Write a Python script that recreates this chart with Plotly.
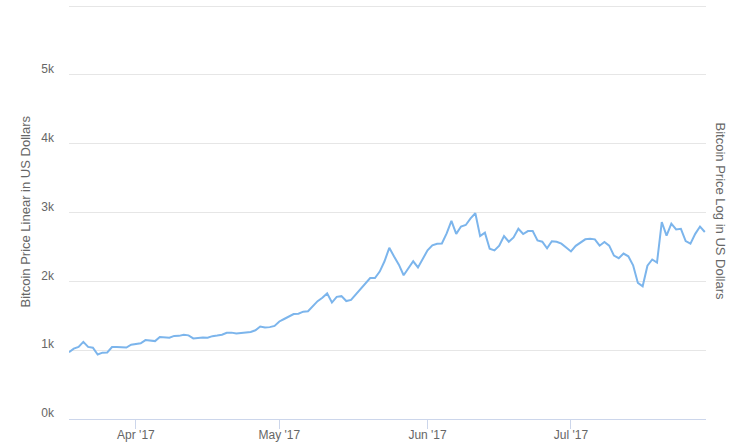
import pandas as pd
import plotly.graph_objects as go

# daily closing price, USD, 18 Mar 2017 - 29 Jul 2017
start_date = "2017-03-18"
prices = [
    970, 1022, 1047, 1120, 1048, 1035, 937, 964, 966, 1045, 1047, 1040, 1038, 1079,
    1086, 1099, 1147, 1142, 1132, 1191, 1190, 1181, 1207, 1208, 1223, 1215, 1171, 1180,
    1184, 1181, 1204, 1212, 1224, 1253, 1255, 1243, 1251, 1254, 1265, 1289, 1343, 1328,
    1335, 1353,
    1417, 1453, 1491, 1525, 1529, 1560, 1565, 1641, 1712, 1761, 1825, 1692, 1775, 1785,
    1714, 1730, 1806, 1898, 1973, 2048, 2049, 2142, 2292, 2487, 2361, 2242, 2089, 2190,
    2292, 2203, 2330,
    2450, 2524, 2546, 2550, 2696, 2880, 2690, 2797, 2819, 2916, 2990, 2657, 2708, 2474,
    2450, 2517, 2659, 2576, 2638, 2765, 2688, 2730, 2730, 2596, 2576, 2481, 2583, 2576,
    2548, 2492,
    2435, 2516, 2560, 2611, 2620, 2610, 2518, 2571, 2519, 2374, 2337, 2404, 2364, 2233,
    1977, 1929, 2228, 2318, 2274, 2862, 2665, 2839, 2754, 2763, 2586, 2549, 2690, 2796,
    2717,
]
dates = pd.date_range(start_date, periods=len(prices), freq="D")

y_ticks = [0, 1000, 2000, 3000, 4000, 5000, 6000]
y_tick_labels = ["0k", "1k", "2k", "3k", "4k", "5k", ""]
x_ticks = ["2017-04-01", "2017-05-01", "2017-06-01", "2017-07-01"]
x_tick_labels = ["Apr '17", "May '17", "Jun '17", "Jul '17"]

FONT = "Liberation Sans, Helvetica, Arial, sans-serif"
GREY = "#666666"

fig = go.Figure()
fig.add_trace(
    go.Scatter(
        x=dates,
        y=prices,
        mode="lines",
        line=dict(color="#7cb5ec", width=2),
        hovertemplate="%{x|%b %d}: $%{y:,.0f}<extra></extra>",
        showlegend=False,
    )
)

fig.update_layout(
    width=740,
    height=446,
    paper_bgcolor="white",
    plot_bgcolor="white",
    margin=dict(l=69, r=34, t=4, b=27),
    font=dict(family=FONT, size=12, color=GREY),
)

fig.update_xaxes(
    range=["2017-03-18", "2017-07-29 06:00"],
    tickvals=x_ticks,
    ticktext=x_tick_labels,
    showgrid=False,
    showline=True,
    linecolor="#ccd6eb",
    linewidth=1,
    ticks="outside",
    ticklen=9,
    tickcolor="#ccd6eb",
    ticklabelstandoff=-4,
    tickfont=dict(size=12, color=GREY),
    automargin=False,
)

fig.update_yaxes(
    range=[0, 6030],
    tickvals=y_ticks,
    ticktext=y_tick_labels,
    showgrid=True,
    gridcolor="#e6e6e6",
    gridwidth=1,
    zeroline=False,
    ticklabelstandoff=14,
    ticklabelshift=-6,
    tickfont=dict(size=12, color=GREY),
    automargin=False,
)

axis_titles = [
    ("Bitcoin Price Linear in US Dollars", 0, -44, -90),
    ("Bitcoin Price Log in US Dollars", 1, 14, 90),
]
for text, xpos, shift, angle in axis_titles:
    fig.add_annotation(
        text=text,
        xref="paper",
        yref="paper",
        x=xpos,
        xshift=shift,
        y=0.5,
        xanchor="center",
        yanchor="middle",
        textangle=angle,
        showarrow=False,
        font=dict(size=13, color=GREY),
    )

# drop the default page margin so the chart sits at the window's corner
fig.write_html(
    "out.html",
    config={"displayModeBar": False},
    post_script="document.body.style.margin='0';",
)
